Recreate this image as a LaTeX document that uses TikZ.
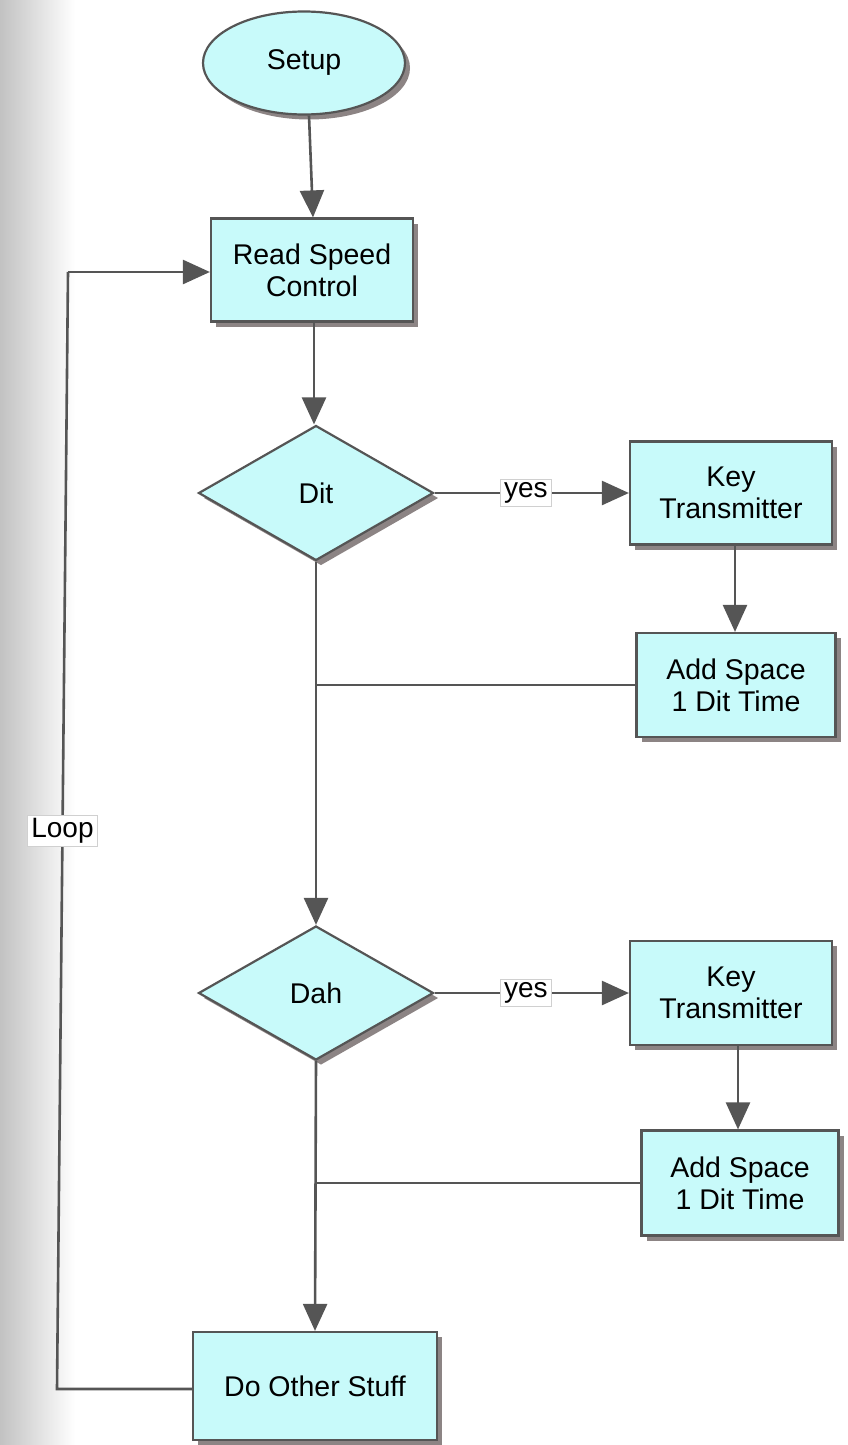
\documentclass[tikz,border=0pt]{standalone}
\usepackage{fontspec}
\setmainfont{Liberation Sans}
\usetikzlibrary{shapes.geometric,shadows,arrows.meta}
\definecolor{boxfill}{HTML}{C8FAFA}
\definecolor{edgegray}{HTML}{555555}
\definecolor{shadowgray}{HTML}{8C8484}
\definecolor{labeledge}{HTML}{D0D0D0}
\tikzset{
  flow/.style={draw=edgegray, line width=2.2pt, fill=boxfill, font=\fontsize{28.5}{32}\selectfont,
    align=center, inner sep=0pt,
    drop shadow={shadow xshift=5pt, shadow yshift=-5pt, fill=shadowgray, opacity=1}},
  procbox/.style={flow, rectangle},
  startbox/.style={flow, ellipse},
  decision/.style={flow, diamond},
  link/.style={draw=edgegray, line width=2.6pt},
  arr/.style={link, -{Triangle[length=27pt,width=24pt]}},
  tag/.style={fill=white, draw=labeledge, line width=0.8pt, font=\fontsize{28}{32}\selectfont,
    inner xsep=4pt, inner ysep=3pt}
}
\begin{document}
\begin{tikzpicture}[x=1pt,y=-1pt]
  \useasboundingbox (0,0) rectangle (848,1445);
  % soft grey band along the left edge
  \shade[left color=black!24, right color=white, draw=none] (0,0) rectangle (75,1445);

  % nodes
  \node[startbox, minimum width=202pt, minimum height=103pt] (setup) at (304,63) {Setup};
  \node[procbox, minimum width=202pt, minimum height=103pt] (rsc) at (312,270) {Read Speed\\Control};
  \node[decision, minimum width=235pt, minimum height=135pt] (dit) at (316,493) {Dit};
  \node[procbox, minimum width=202pt, minimum height=103pt] (kt1) at (731,493) {Key\\Transmitter};
  \node[procbox, minimum width=199pt, minimum height=104pt] (as1) at (736,685) {Add Space\\1 Dit Time};
  \node[decision, minimum width=235pt, minimum height=134pt] (dah) at (316,993) {Dah};
  \node[procbox, minimum width=202pt, minimum height=104pt] (kt2) at (731,993) {Key\\Transmitter};
  \node[procbox, minimum width=197pt, minimum height=105pt] (as2) at (740,1183) {Add Space\\1 Dit Time};
  \node[procbox, minimum width=244pt, minimum height=108pt] (dos) at (315,1386) {Do Other Stuff};

  % loop return path
  \coordinate (lb) at (57,1389);
  \coordinate (lt) at (68,272);

  % connectors
  \draw[arr] ([xshift=5pt]setup.south) -- ([xshift=1pt]rsc.north);
  \draw[arr] ([xshift=2pt]rsc.south) -- ([xshift=-2pt]dit.north);
  \draw[arr] (dit.east) -- node[tag, pos=0.47] {yes} (kt1.west);
  \draw[arr] ([xshift=4pt]kt1.south) -- ([xshift=-1pt]as1.north);
  \draw[link] (as1.west) -- (as1.west -| dit.south);
  \draw[arr] (dit.south) -- (dah.north);
  \draw[arr] (dah.east) -- node[tag, pos=0.47] {yes} (kt2.west);
  \draw[arr] ([xshift=7pt]kt2.south) -- ([xshift=-2pt]as2.north);
  \draw[link] (as2.west) -- (as2.west -| dah.south);
  \draw[arr] (dah.south) -- (dos.north);
  \draw[link] (dos.west |- lb) -- (lb) -- node[tag, pos=0.5] {Loop} (lt);
  \draw[arr] (lt) -- (rsc.west |- lt);
\end{tikzpicture}
\end{document}
